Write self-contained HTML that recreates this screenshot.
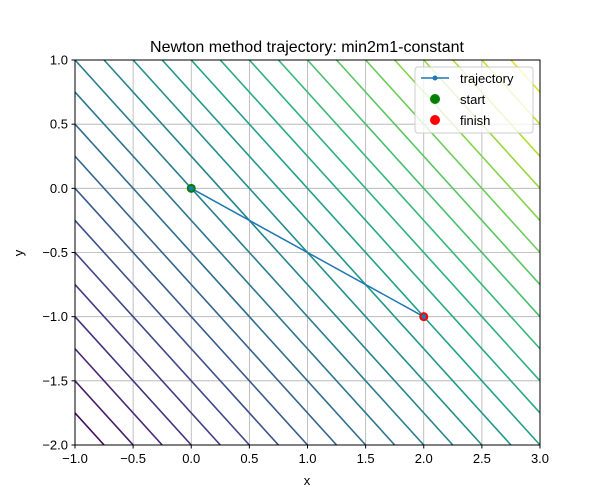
<!DOCTYPE html>
<html><head><meta charset="utf-8"><style>
html,body{margin:0;padding:0;background:#fff;font-family:"Liberation Sans",sans-serif;width:600px;height:500px;overflow:hidden}
svg{display:block}
</style></head><body>
<svg id="c" width="600" height="500" xmlns="http://www.w3.org/2000/svg" font-family="Liberation Sans, sans-serif">
<g id="grid"></g>
<g id="cont"></g>
<g id="traj"></g>
<rect x="75" y="60" width="465" height="385" fill="none" stroke="#000" stroke-width="1"/>
<g id="ticks"></g>
<text x="307" y="52" text-anchor="middle" font-size="16">Newton method trajectory: min2m1-constant</text>
<text x="307" y="485" text-anchor="middle" font-size="13">x</text>
<text x="23" y="253" text-anchor="middle" font-size="13" transform="rotate(-90 23 253)">y</text>
<g>
<rect x="415" y="67" width="118" height="66" rx="3" fill="#fff" fill-opacity="0.8" stroke="#ccc"/>
<g><line x1="421" y1="78" x2="449" y2="78" stroke="#1f77b4" stroke-width="1.5"/><circle cx="435" cy="78" r="2.5" fill="#1f77b4"/><text x="460" y="83" font-size="13">trajectory</text></g>
<g><circle cx="435" cy="99" r="5" fill="green"/><text x="460" y="104" font-size="13">start</text></g>
<g><circle cx="435" cy="120" r="5" fill="red"/><text x="460" y="125" font-size="13">finish</text></g>
</g>
</svg>
<script>
const xTicks=[-1,-0.5,0,0.5,1,1.5,2,2.5,3];
const yTicks=[-2,-1.5,-1,-0.5,0,0.5,1];
const xTickLabels=["−1.0","−0.5","0.0","0.5","1.0","1.5","2.0","2.5","3.0"];
const yTickLabels=["−2.0","−1.5","−1.0","−0.5","0.0","0.5","1.0"];
const levels=[-2.75,-2.5,-2.25,-2,-1.75,-1.5,-1.25,-1,-0.75,-0.5,-0.25,0,0.25,0.5,0.75,1,1.25,1.5,1.75,2,2.25,2.5,2.75,3,3.25,3.5,3.75];
const trajX=[0,2];
const trajY=[0,-1];
const NS="http://www.w3.org/2000/svg";
const X=v=>75+(v+1)*465/4, Y=v=>445-(v+2)*385/3;
function mk(t,a,p){const e=document.createElementNS(NS,t);for(const k in a)e.setAttribute(k,a[k]);p.appendChild(e);return e;}
const vir=["#440154","#482878","#3e4989","#31688e","#26828e","#1f9e89","#35b779","#6ece58","#b5de2b","#fde725"];
function col(t){t=Math.max(0,Math.min(1,t))*(vir.length-1);const i=Math.min(Math.floor(t),vir.length-2),f=t-i;
const a=vir[i],b=vir[i+1];const c=[1,3,5].map(j=>Math.round(parseInt(a.substr(j,2),16)*(1-f)+parseInt(b.substr(j,2),16)*f));return `rgb(${c})`;}
const g=document.getElementById('grid'),ct=document.getElementById('cont'),tk=document.getElementById('ticks'),tr=document.getElementById('traj');
xTicks.forEach((v,i)=>{let l=mk('line',{x1:X(v),x2:X(v),y1:60,y2:445,stroke:'#b0b0b0','stroke-width':0.8},g);

mk('line',{x1:X(v),x2:X(v),y1:445,y2:448.5,stroke:'#000'},tk);
let t=mk('text',{x:X(v),y:463,'text-anchor':'middle','font-size':13},tk);t.textContent=xTickLabels[i];
});
yTicks.forEach((v,i)=>{let l=mk('line',{x1:75,x2:540,y1:Y(v),y2:Y(v),stroke:'#b0b0b0','stroke-width':0.8},g);

mk('line',{x1:71.5,x2:75,y1:Y(v),y2:Y(v),stroke:'#000'},tk);
let t=mk('text',{x:68,y:Y(v)+4.5,'text-anchor':'end','font-size':13},tk);t.textContent=yTickLabels[i];
});
levels.forEach(c=>{const xa=Math.max(-1,c-1),xb=Math.min(3,c+2);
const l=mk('line',{x1:X(xa),y1:Y(c-xa),x2:X(xb),y2:Y(c-xb),stroke:col((c+3)/7.1),'stroke-width':1.6},ct);
});
const pl=mk('polyline',{points:trajX.map((x,i)=>X(x)+','+Y(trajY[i])).join(' '),fill:'none',stroke:'#1f77b4','stroke-width':1.5},tr);

const s=mk('circle',{cx:X(trajX[0]),cy:Y(trajY[0]),r:4.5,fill:'green'},tr);

const f=mk('circle',{cx:X(trajX[trajX.length-1]),cy:Y(trajY[trajY.length-1]),r:4.5,fill:'red'},tr);

trajX.forEach((x,i)=>{const m=mk('circle',{cx:X(x),cy:Y(trajY[i]),r:2.5,fill:'#1f77b4'},tr);
});
</script>
</body></html>
